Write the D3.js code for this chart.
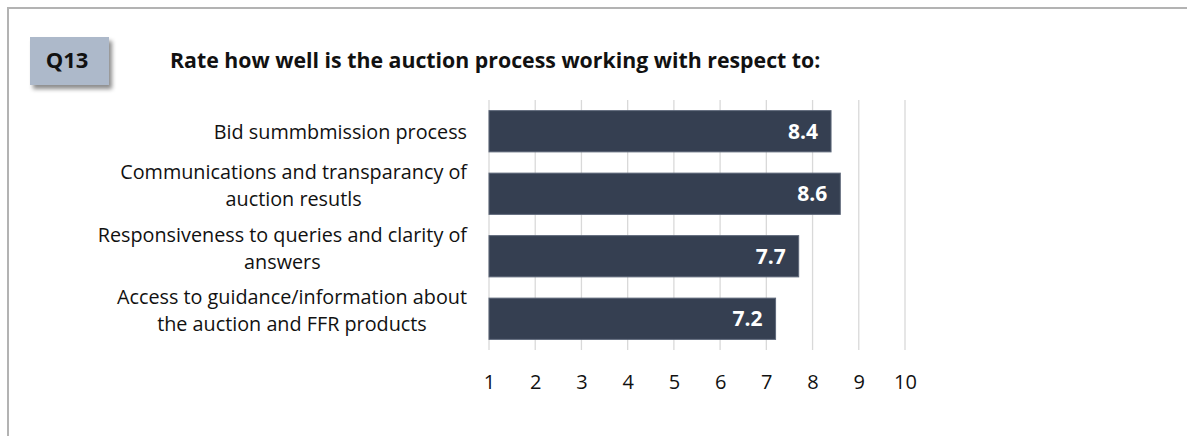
<!DOCTYPE html>
<html>
<head>
<meta charset="utf-8">
<script src="https://cdn.jsdelivr.net/npm/d3@7"></script>
<style>
  html, body { margin: 0; padding: 0; background: #ffffff; }
  svg { display: block; font-family: "Open Sans", sans-serif; }
</style>
</head>
<body>
<svg id="chart" width="1187" height="436"></svg>
<script>
// Survey question and rating results
const questionCode = "Q13";
const questionText = "Rate how well is the auction process working with respect to:";
const categories = [
  "Bid summbmission process",
  "Communications and transparancy of\nauction resutls",
  "Responsiveness to queries and clarity of\nanswers",
  "Access to guidance/information about\nthe auction and FFR products"
];
const scores = [8.4, 8.6, 7.7, 7.2];
const tickValues = [1, 2, 3, 4, 5, 6, 7, 8, 9, 10];

const svg = d3.select("#chart");

// Frame around the slide panel
svg.append("rect")
  .attr("x", 8).attr("y", 8)
  .attr("width", 1400).attr("height", 600)
  .attr("fill", "none")
  .attr("stroke", "#b3b3b3")
  .attr("stroke-width", 2);

// Question badge with drop shadow
const defs = svg.append("defs");
const shadow = defs.append("filter").attr("id", "badgeShadow")
  .attr("x", "-20%").attr("y", "-20%").attr("width", "150%").attr("height", "160%");
shadow.append("feDropShadow")
  .attr("dx", 3).attr("dy", 4).attr("stdDeviation", 2.2)
  .attr("flood-color", "#000").attr("flood-opacity", 0.45);

svg.append("rect")
  .attr("x", 30).attr("y", 37)
  .attr("width", 79).attr("height", 48)
  .attr("fill", "#adb9ca")
  .attr("filter", "url(#badgeShadow)");

svg.append("text")
  .attr("x", 67).attr("y", 68)
  .attr("text-anchor", "middle")
  .attr("font-size", 22).attr("font-weight", 700)
  .attr("fill", "#111")
  .text(questionCode);

svg.append("text")
  .attr("x", 170).attr("y", 68)
  .attr("font-size", 21.3).attr("font-weight", 700)
  .attr("fill", "#111")
  .text(questionText);

// Scales
const x = d3.scaleLinear().domain([1, 10]).range([489, 905]);
const y = d3.scaleBand().domain(categories).range([100, 350])
  .paddingInner(0.34).paddingOuter(0.17);

// Vertical gridlines
svg.append("g")
  .selectAll("line")
  .data(tickValues)
  .join("line")
  .attr("x1", d => x(d)).attr("x2", d => x(d))
  .attr("y1", 100).attr("y2", 350)
  .attr("stroke", "#d9d9d9")
  .attr("stroke-width", 1.3);

// Bottom axis labels (no domain line)
const axis = svg.append("g")
  .attr("transform", "translate(0,350)")
  .call(d3.axisBottom(x).tickValues(tickValues).tickFormat(d3.format("d")).tickSize(0).tickPadding(25));
axis.select(".domain").remove();
axis.selectAll("text")
  .attr("font-family", "'Open Sans', sans-serif")
  .attr("font-size", 20)
  .attr("fill", "#111");

// Bars
svg.append("g")
  .selectAll("rect")
  .data(scores)
  .join("rect")
  .attr("x", x(1))
  .attr("y", (d, i) => y(categories[i]))
  .attr("width", d => x(d) - x(1))
  .attr("height", y.bandwidth())
  .attr("fill", "#353f51")
  .attr("stroke", "#5d6779")
  .attr("stroke-width", 1);

// Value labels inside bar ends
svg.append("g")
  .selectAll("text")
  .data(scores)
  .join("text")
  .attr("x", d => x(d) - 13)
  .attr("y", (d, i) => y(categories[i]) + y.bandwidth() / 2)
  .attr("dy", "0.36em")
  .attr("text-anchor", "end")
  .attr("font-size", 21).attr("font-weight", 700)
  .attr("fill", "#ffffff")
  .text(d => d3.format(".1f")(d));

// Category labels: centred lines, block aligned right of the plot
const labelRight = 467;
const lineGap = 27;
categories.forEach(cat => {
  const lines = cat.split("\n");
  const cy = y(cat) + y.bandwidth() / 2;
  const g = svg.append("g");
  const texts = lines.map((ln, j) => g.append("text")
    .attr("y", cy + 8 - 9 * (lines.length - 1) + (j - (lines.length - 1) / 2) * lineGap)
    .attr("text-anchor", "middle")
    .attr("font-size", 19.8)
    .attr("fill", "#111")
    .text(ln));
  const maxW = d3.max(texts, t => t.node().getComputedTextLength());
  texts.forEach(t => t.attr("x", labelRight - maxW / 2));
});
</script>
</body>
</html>
